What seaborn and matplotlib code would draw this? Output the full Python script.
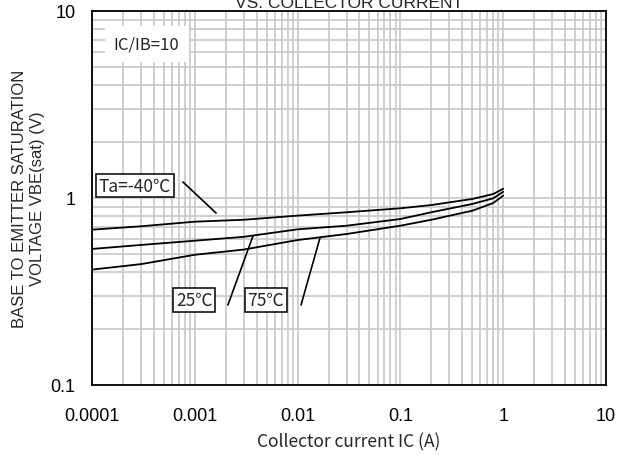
import numpy as np
import pandas as pd
import matplotlib
matplotlib.use("Agg")
import matplotlib.pyplot as plt
import seaborn as sns
from matplotlib.ticker import FixedLocator, NullFormatter, LogLocator

# ---- data ----
ic = [1e-4, 3e-4, 1e-3, 3e-3, 1e-2, 3e-2, 0.1, 0.2, 0.5, 0.8, 1.0]
vbe_m40 = [0.677, 0.706, 0.747, 0.765, 0.805, 0.839, 0.881, 0.917, 0.988, 1.05, 1.12]
vbe_25 = [0.534, 0.561, 0.591, 0.620, 0.680, 0.711, 0.772, 0.839, 0.929, 0.996, 1.08]
vbe_75 = [0.414, 0.443, 0.497, 0.530, 0.596, 0.642, 0.711, 0.765, 0.855, 0.940, 1.03]
series_names = ["Ta=-40℃", "25℃", "75℃"]

x_ticks = [1e-4, 1e-3, 1e-2, 1e-1, 1, 10]
x_tick_labels = ["0.0001", "0.001", "0.01", "0.1", "1", "10"]
y_ticks = [0.1, 1, 10]
y_tick_labels = ["0.1", "1", "10"]

df = pd.concat([
    pd.DataFrame({"ic": ic, "vbe": v, "Ta": n})
    for v, n in zip([vbe_m40, vbe_25, vbe_75], series_names)
])

sns.set_style("white")
plt.rcParams["font.family"] = ["Liberation Sans", "DejaVu Sans"]
cjk = ["Noto Sans CJK JP", "DejaVu Sans"]

fig = plt.figure(figsize=(6.27, 4.56), dpi=100)
ax = fig.add_axes([92 / 627, 1 - 386 / 456, (606 - 92) / 627, (386 - 12) / 456])

sns.lineplot(data=df, x="ic", y="vbe", hue="Ta", palette=["black"] * 3,
             legend=False, ax=ax, lw=1.3, zorder=3)

ax.set_xscale("log")
ax.set_yscale("log")
ax.set_xlim(1e-4, 10)
ax.set_ylim(0.1, 10)

ax.xaxis.set_major_locator(FixedLocator(x_ticks))
ax.set_xticklabels(x_tick_labels)
ax.yaxis.set_major_locator(FixedLocator(y_ticks))
ax.set_yticklabels(y_tick_labels)
ax.xaxis.set_minor_locator(LogLocator(base=10, subs=np.arange(2, 10), numticks=20))
ax.yaxis.set_minor_locator(LogLocator(base=10, subs=np.arange(2, 10), numticks=20))
ax.xaxis.set_minor_formatter(NullFormatter())
ax.yaxis.set_minor_formatter(NullFormatter())
ax.tick_params(which="both", length=0, labelsize=13, colors="black")
ax.tick_params(axis="x", pad=16)
ax.tick_params(axis="y", pad=12)

ax.grid(which="both", color="#c8c8c8", lw=1.2, zorder=1)
ax.set_axisbelow(True)
for s in ax.spines.values():
    s.set_color("black")
    s.set_linewidth(1.3)

ax.set_xlabel("Collector current IC (A)", family=cjk, fontsize=12.5, labelpad=6)
ax.set_ylabel("BASE TO EMITTER SATURATION\nVOLTAGE VBE(sat) (V)", fontsize=12,
              labelpad=4, linespacing=1.25)
ax.set_title("BASE TO EMITTER SATURATION VOLTAGE\nVS. COLLECTOR CURRENT", fontsize=12.5, pad=3)

# annotations
ax.text(3.4e-4, 6.66, "IC/IB=10", family=cjk, fontsize=12, ha="center", va="center",
        zorder=5, bbox=dict(boxstyle="square,pad=0.55", fc="white", ec="none"))

box = dict(boxstyle="square,pad=0.15", fc="white", ec="black", lw=1.1)
ax.text(2.62e-4, 1.166, series_names[0], family=cjk, fontsize=12.5, ha="center", va="center",
        zorder=5, bbox=box)
ax.text(9.9e-4, 0.285, series_names[1], family=cjk, fontsize=12.5, ha="center", va="center",
        zorder=5, bbox=box)
ax.text(4.88e-3, 0.285, series_names[2], family=cjk, fontsize=12.5, ha="center", va="center",
        zorder=5, bbox=box)

lp = dict(arrowstyle="-", lw=1.2, color="black", shrinkA=0, shrinkB=0)
ax.annotate("", xy=(1.61e-3, 0.831), xytext=(7.67e-4, 1.218), arrowprops=lp, zorder=4)
ax.annotate("", xy=(3.68e-3, 0.626), xytext=(2.10e-3, 0.268), arrowprops=lp, zorder=4)
ax.annotate("", xy=(1.65e-2, 0.611), xytext=(1.08e-2, 0.268), arrowprops=lp, zorder=4)

fig.savefig("out.png", dpi=100)
